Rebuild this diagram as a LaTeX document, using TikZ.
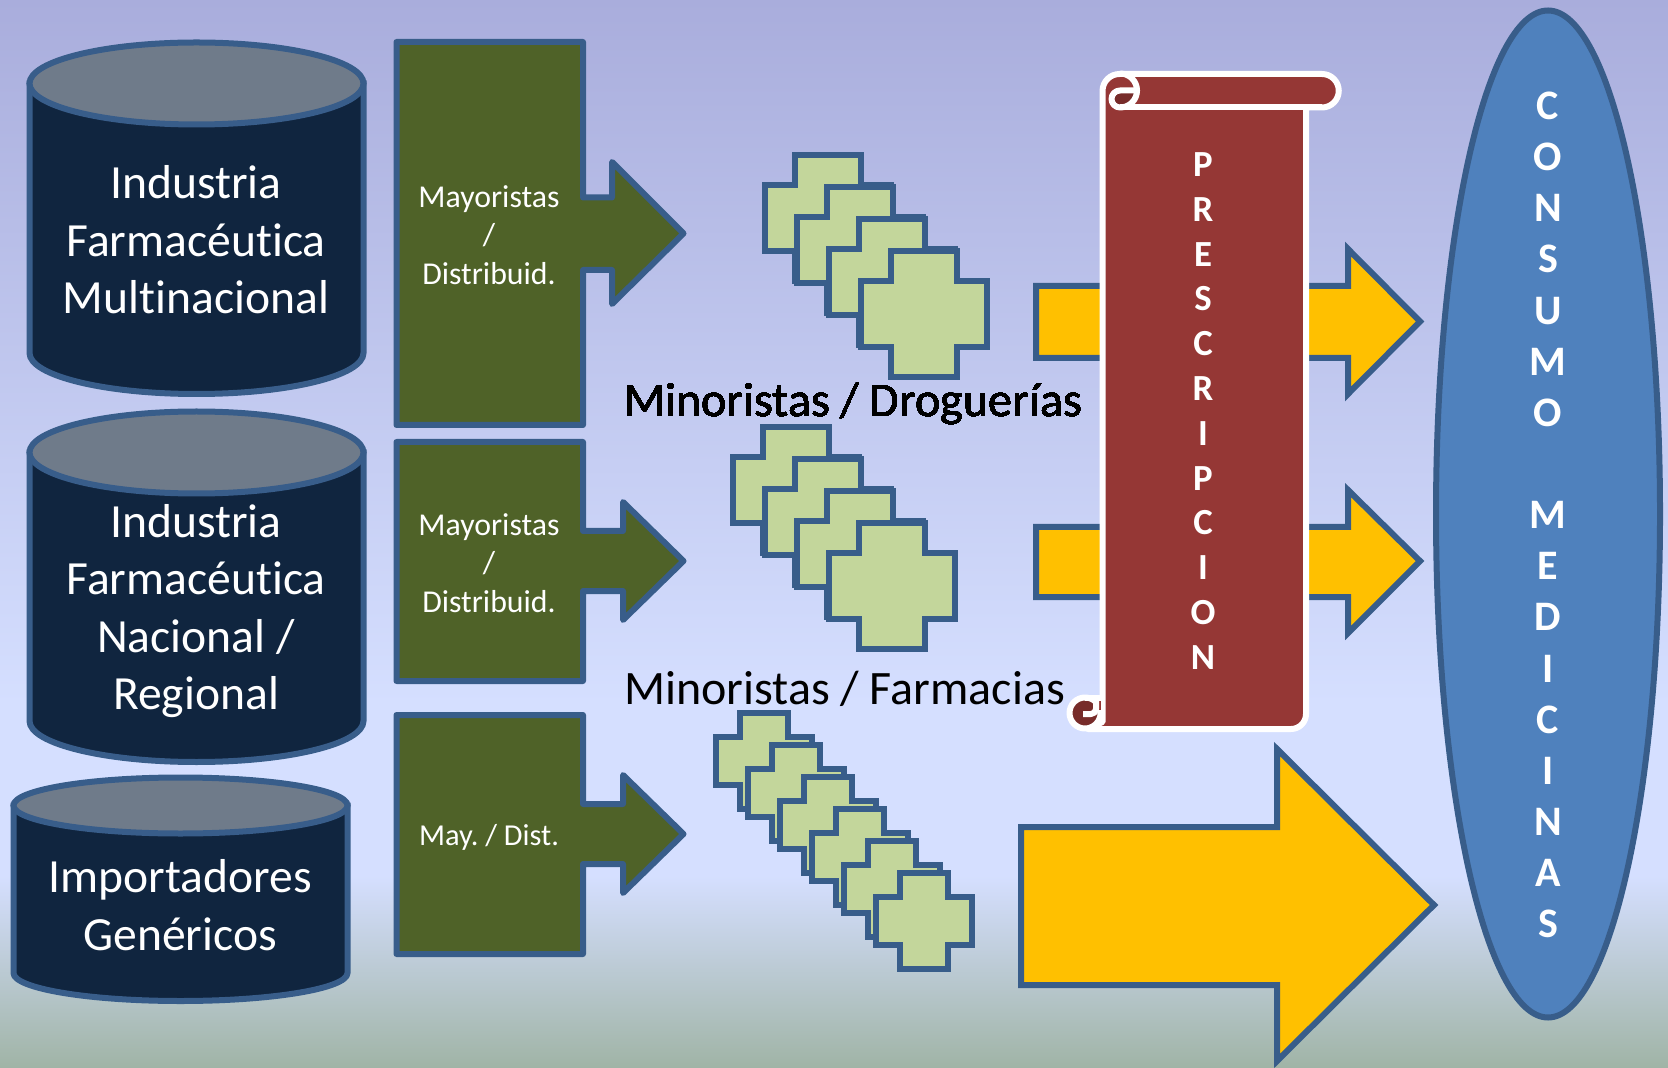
\documentclass[tikz,border=0pt]{standalone}
\usepackage{fontspec}
\setmainfont{Carlito}[Ligatures=NoCommon]
\usetikzlibrary{positioning,calc}
\frenchspacing

\definecolor{bgtop}{HTML}{A9ADDC}
\definecolor{bgmid}{HTML}{D5DFFF}
\definecolor{bgend}{HTML}{A0B4A6}
\definecolor{edgeblue}{HTML}{385D8A}
\definecolor{cylnavy}{HTML}{10253F}
\definecolor{cylgrey}{HTML}{6F7B8A}
\definecolor{distgreen}{HTML}{4F6228}
\definecolor{crossgreen}{HTML}{C3D69B}
\definecolor{amber}{HTML}{FFC000}
\definecolor{scrollred}{HTML}{953735}
\definecolor{scrolldark}{HTML}{772C2A}
\definecolor{oval}{HTML}{4F81BD}

\pgfdeclareverticalshading{bgshade}{100bp}{color(0bp)=(bgend); color(25bp)=(bgend); color(34bp)=(bgmid); color(42bp)=(bgmid); color(75bp)=(bgtop); color(100bp)=(bgtop)}

% x y width arm %
\newcommand{\drugcross}[4]{%
    \draw[crossbox] ({#1+#4},{#2}) -- ++({#3-2*#4},0) -- ++(0,#4) -- ++(#4,0) -- ++(0,{#3-2*#4}) -- ++(-#4,0) -- ++(0,#4)
        -- ++({-(#3-2*#4)},0) -- ++(0,-#4) -- ++(-#4,0) -- ++(0,{-(#3-2*#4)}) -- ++(#4,0) -- cycle;
}
% x-centre y-top-centre x-radius y-radius y-bottom %
\newcommand{\drugcyl}[5]{%
    \draw[cylbody] ({#1-#3},#2) -- ({#1-#3},#5) arc[start angle=180,end angle=0,x radius=#3,y radius=#4] -- ({#1+#3},#2) -- cycle;
    \draw[cyltop] (#1,#2) circle[x radius=#3,y radius=#4];
}

\begin{document}
\begin{tikzpicture}[
            x=0.5pt,y=-0.5pt,
            line width=3pt,
            cylbody/.style={draw=edgeblue,fill=cylnavy},
            cyltop/.style={draw=edgeblue,fill=cylgrey},
            distbox/.style={draw=edgeblue,fill=distgreen,line join=round},
            crossbox/.style={draw=edgeblue,fill=crossgreen,line join=miter},
            amberarrow/.style={draw=edgeblue,fill=amber,line join=miter},
            cyllabel/.style={text=white,align=center,font=\fontsize{23.8}{28.8}\selectfont},
            distlabel/.style={text=white,align=center,font=\fontsize{15.9}{19.2}\selectfont},
            retail/.style={anchor=west,inner sep=0pt,font=\fontsize{24}{28.8}\selectfont},
            scrollline/.style={draw=white,line join=round}
        ]
        \useasboundingbox (0,0) rectangle (1668,1068);

        % Draw background %
        \shade[shading=bgshade] (0,0) rectangle (1668,1068);

        % Draw cylinders %
        \drugcyl{196.5}{83.5}{167}{41}{353}
        \drugcyl{196.5}{452.5}{167}{41}{721}
        \drugcyl{180.5}{805.5}{167}{28}{973}
        \node[cyllabel] (multi) at (196,240) {Industria\\Farmacéutica\\Multinacional};
        \node[cyllabel] (nacional) at (196,611) {Industria\\Farmacéutica\\Nacional /\\Regional};
        \node[cyllabel] (generic) at (180,905) {Importadores\\Genéricos};

        % Draw wholesalers %
        \draw[distbox] (396.5,42) -- (583,42) -- (583,197.5) -- (612,197.5) -- (612,162) -- (683.5,233.5) -- (612,304) -- (612,270) -- (583,270) -- (583,425) -- (396.5,425) -- cycle;
        \draw[distbox] (396.5,442) -- (583,442) -- (583,531) -- (623,531) -- (623,502) -- (683.5,561) -- (623,620) -- (623,591) -- (583,591) -- (583,681) -- (396.5,681) -- cycle;
        \draw[distbox] (396.5,715) -- (583,715) -- (583,804) -- (623,804) -- (623,775) -- (683.5,834) -- (623,893) -- (623,864) -- (583,864) -- (583,954) -- (396.5,954) -- cycle;
        \node[distlabel] (dist1) at (489,235) {Mayoristas\\/\\Distribuid.};
        \node[distlabel] (dist2) at (489,563) {Mayoristas\\/\\Distribuid.};
        \node[distlabel,font=\fontsize{15.2}{19.2}\selectfont] (dist3) at (489,837) {May. / Dist.};

        % Draw retailers %
        \foreach \i in {0,...,3}
            \drugcross{765+32*\i}{155+32*\i}{126}{30}
        \foreach \i in {0,...,3}
            \drugcross{733+32*\i}{427+32*\i}{126}{30}
        \foreach \i in {0,...,5}
            \drugcross{716+32*\i}{713+32*\i}{95.5}{24}
        \node[retail] (drog) at (621,404.4) {Minoristas / Droguerías};
        \node[retail] (farm) at (621,689) {Minoristas / Farmacias};

        % Draw amber arrows %
        \draw[amberarrow] (1036,286) -- (1348,286) -- (1348,249) -- (1420,321.5) -- (1348,394) -- (1348,358) -- (1036,358) -- cycle;
        \draw[amberarrow] (1036,527) -- (1348,527) -- (1348,490) -- (1420,561) -- (1348,633) -- (1348,597) -- (1036,597) -- cycle;
        \draw[amberarrow] (1021,827) -- (1277,827) -- (1277,749) -- (1434,905) -- (1277,1061) -- (1277,985) -- (1021,985) -- cycle;

        % Draw scroll %
        \draw[scrollline,fill=scrolldark] (1085,713) circle[radius=15.5];
        \draw[scrollline,fill=scrollred] (1102.5,91) arc[start angle=180,end angle=270,radius=17] -- (1322,74) arc[start angle=270,end angle=450,radius=16.75]
            -- (1306,107.5) -- (1306,714) arc[start angle=0,end angle=90,radius=15] -- (1088,729) -- (1102.5,722) -- cycle;
        \fill[scrollred] (1097,700) rectangle (1101,710);
        \draw[scrollline] (1085,697.5) -- (1102.5,697.5);
        \draw[scrollline] (1083,714) -- (1091,714) arc[start angle=90,end angle=0,radius=5] -- (1096,699);
        \fill[scrolldark] (1120,107.5) arc[start angle=90,end angle=270,radius=8.5] -- (1137,90.5) arc[start angle=0,end angle=90,radius=17] -- cycle;
        \draw[scrollline] (1120,73.5) arc[start angle=270,end angle=450,radius=17] arc[start angle=90,end angle=270,radius=8.5] -- (1137,90.5);
        \draw[scrollline] (1120,107.5) -- (1322,107.5);
        \node[text=white,align=center,font=\bfseries\fontsize{18.4}{22.4}\selectfont] (presc) at (1203,411) {P\\R\\E\\S\\C\\R\\I\\P\\C\\I\\O\\N};

        % Draw consumption %
        \draw[draw=edgeblue,fill=oval] (1548,514) circle[x radius=112,y radius=503.5];
        \node[text=white,align=center,font=\bfseries\fontsize{21}{25.57}\selectfont] (consumo) at (1548,515) {C\\O\\N\\S\\U\\M\\O\\[25.57pt]M\\E\\D\\I\\C\\I\\N\\A\\S};
\end{tikzpicture}
\end{document}
